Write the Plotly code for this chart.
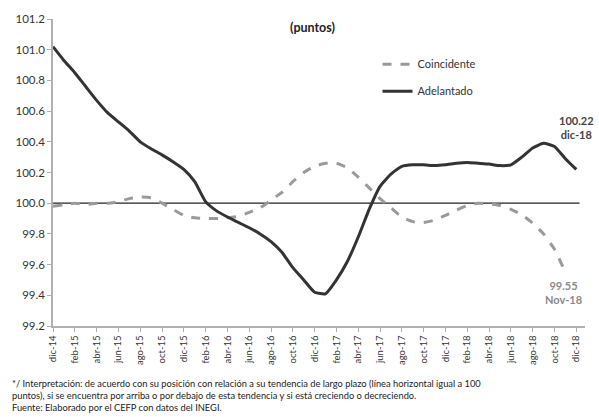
import plotly.graph_objects as go

months = ["dic-14","ene-15","feb-15","mar-15","abr-15","may-15","jun-15","jul-15","ago-15","sep-15","oct-15","nov-15",
          "dic-15","ene-16","feb-16","mar-16","abr-16","may-16","jun-16","jul-16","ago-16","sep-16","oct-16","nov-16",
          "dic-16","ene-17","feb-17","mar-17","abr-17","may-17","jun-17","jul-17","ago-17","sep-17","oct-17","nov-17",
          "dic-17","ene-18","feb-18","mar-18","abr-18","may-18","jun-18","jul-18","ago-18","sep-18","oct-18","nov-18",
          "dic-18"]

adelantado = [101.02, 100.93, 100.85, 100.76, 100.67, 100.59, 100.53, 100.47, 100.40, 100.355, 100.315, 100.27,
              100.22, 100.14, 100.01, 99.95, 99.91, 99.875, 99.84, 99.80, 99.75, 99.68, 99.58, 99.50,
              99.42, 99.41, 99.50, 99.62, 99.78, 99.96, 100.11, 100.19, 100.24, 100.25, 100.25, 100.245,
              100.25, 100.26, 100.265, 100.26, 100.255, 100.245, 100.25, 100.30, 100.36, 100.39, 100.37, 100.29,
              100.22]

coincidente = [99.98, 99.99, 100.0, 99.99, 100.0, 100.0, 100.01, 100.03, 100.04, 100.035, 100.0, 99.96,
               99.92, 99.905, 99.90, 99.90, 99.905, 99.915, 99.94, 99.97, 100.02, 100.07, 100.14, 100.20,
               100.24, 100.26, 100.26, 100.23, 100.17, 100.10, 100.03, 99.97, 99.91, 99.88, 99.875, 99.89,
               99.92, 99.955, 99.985, 100.0, 99.995, 99.985, 99.96, 99.925, 99.87, 99.80, 99.70, 99.55]

tick_labels = months[::2]
y_ticks = [99.2, 99.4, 99.6, 99.8, 100.0, 100.2, 100.4, 100.6, 100.8, 101.0, 101.2]

FONT = "Lato"

fig = go.Figure()
fig.add_trace(go.Scatter(x=months[:len(coincidente)], y=coincidente, mode="lines", name="Coincidente",
                         line=dict(color="#9a9a9a", width=3, dash="dash", shape="spline", smoothing=0.5),
                         legendgroup="a"))
fig.add_trace(go.Scatter(x=months, y=adelantado, mode="lines", name="Adelantado",
                         line=dict(color="#333333", width=3, shape="spline", smoothing=0.5), legendgroup="b"))

fig.add_shape(type="line", xref="x", yref="y", x0=0, x1=48.3, y0=100, y1=100,
              line=dict(color="#222222", width=1.3), layer="below")

fig.update_layout(
    width=599, height=417,
    margin=dict(l=53, r=14, t=19, b=91),
    paper_bgcolor="white", plot_bgcolor="white",
    font=dict(family=FONT, color="#333333", size=11),
    showlegend=True,
    legend=dict(x=0.61, y=0.9, xanchor="left", yanchor="top", bgcolor="rgba(0,0,0,0)",
                font=dict(size=11, color="#333333"), tracegroupgap=8, itemwidth=30),
    xaxis=dict(type="category", categoryorder="array", categoryarray=months,
               tickmode="array", tickvals=tick_labels, ticktext=tick_labels,
               tickangle=-90, tickfont=dict(size=9.5, color="#333333"), automargin=False,
               range=[0, 48.8], showgrid=False, showline=True, linecolor="#b0b0b0", linewidth=1.5,
               ticks="outside", ticklen=4, tickcolor="#b0b0b0", zeroline=False),
    yaxis=dict(range=[99.2, 101.2], tickvals=y_ticks, ticktext=[f"{v:.1f}" for v in y_ticks],
               tickfont=dict(size=11.5, color="#333333"), showgrid=False, showline=True, automargin=False,
               linecolor="#b0b0b0", linewidth=1.5, ticks="outside", ticklen=4, tickcolor="#b0b0b0",
               zeroline=False),
)

fig.add_annotation(text="<b>(puntos)</b>", xref="paper", yref="paper", x=0.488, y=0.972,
                   showarrow=False, font=dict(size=12.5, color="#222222"), xanchor="center", yanchor="middle")
fig.add_annotation(text="<b>100.22<br>dic-18</b>", xref="x", yref="y", x=48, y=100.49,
                   showarrow=False, font=dict(size=11, color="#444444"), xanchor="center", yanchor="middle")
fig.add_annotation(text="<b>99.55<br>Nov-18</b>", xref="x", yref="y", x=46.8, y=99.42,
                   showarrow=False, font=dict(size=11, color="#8a8a8a"), xanchor="center", yanchor="middle")

notes = ("*/ Interpretación: de acuerdo con su posición con relación a su tendencia de largo plazo (línea horizontal igual a 100<br>"
         "puntos), si se encuentra por arriba o por debajo de esta tendencia y si está creciendo o decreciendo.<br>"
         "Fuente: Elaborado por el CEFP con datos del INEGI.")
fig.add_annotation(text=notes, xref="paper", yref="paper", x=-0.081, y=-0.164, xanchor="left", yanchor="top",
                   align="left", showarrow=False, font=dict(size=9.3, color="#222222"))

fig.write_html("out.html", config={"displayModeBar": False},
               post_script="document.body.style.margin='0';document.body.style.overflow='hidden';")
